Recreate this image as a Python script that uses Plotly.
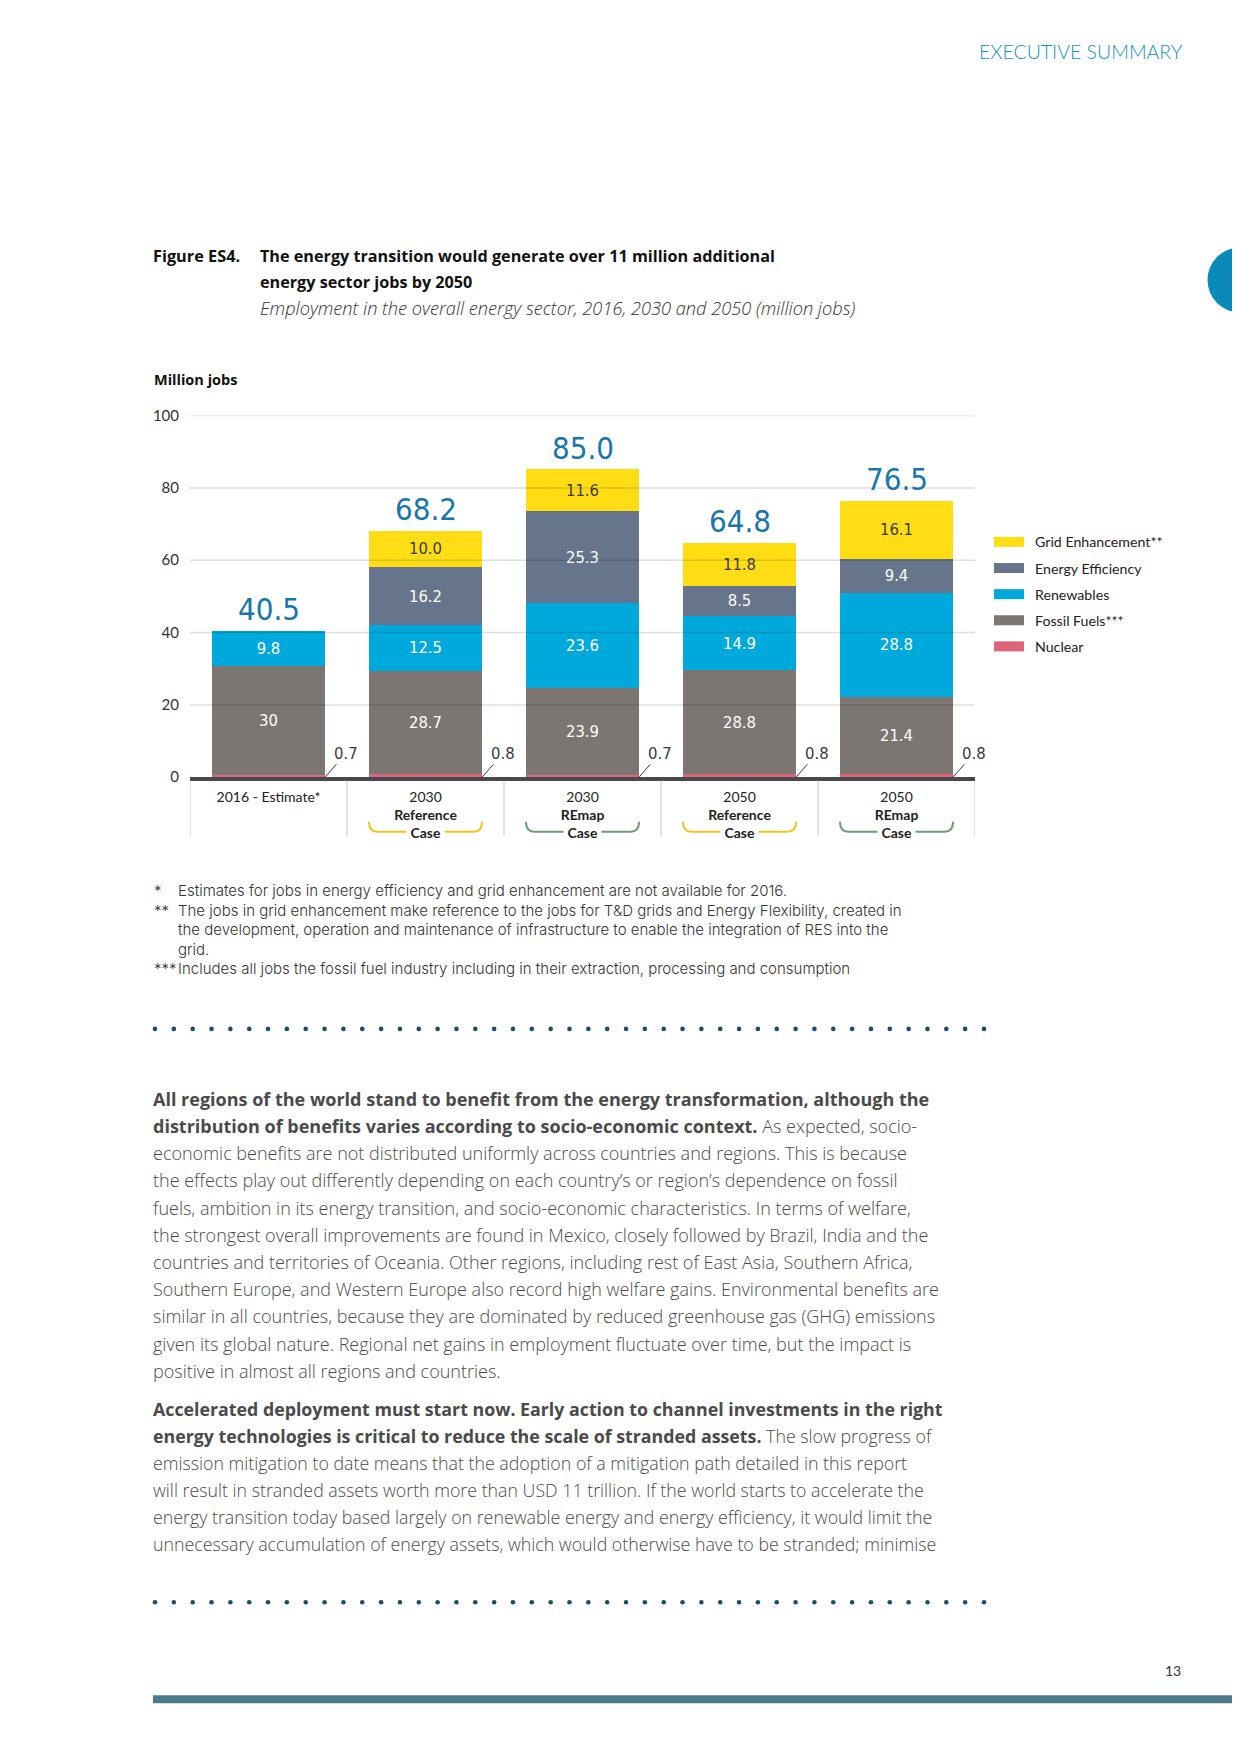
import plotly.graph_objects as go
import numpy as np

# page is 1240x1754; the browser body keeps an 8px margin, so the figure is 1224x1738
PAGE_W, PAGE_H = 1240, 1754
OFF = 8
W, H = PAGE_W - 2 * OFF, PAGE_H - 2 * OFF
YS, YO = 1.011, 18.86   # vertical calibration of page position -> figure pixel

# ---------------- data ----------------
categories = ["2016 - Estimate*", "2030", "2030", "2050", "2050"]
case_names = ["", "Reference", "REmap", "Reference", "REmap"]
nuclear = [0.7, 0.8, 0.7, 0.8, 0.8]
fossil = [30, 28.7, 23.9, 28.8, 21.4]
renewables = [9.8, 12.5, 23.6, 14.9, 28.8]
efficiency = [None, 16.2, 25.3, 8.5, 9.4]
grid = [None, 10.0, 11.6, 11.8, 16.1]
totals = [40.5, 68.2, 85.0, 64.8, 76.5]
y_ticks = [0, 20, 40, 60, 80, 100]

COND = "Liberation Sans Narrow, Noto Sans Condensed, DejaVu Sans Condensed, sans-serif"
SANS = "Lato, Open Sans, sans-serif"
BODY = "Open Sans, Lato, sans-serif"
NOTE = "Inter, Open Sans, sans-serif"

def fx(x):
    return (x - OFF) / W

def fy(y):
    return 1 - (YS * y - YO) / H

series = [
    ("Nuclear", nuclear, "#dd6479", None, "#3a3a3a"),
    ("Fossil Fuels***", fossil, "#7b7672", "g", "white"),
    ("Renewables", renewables, "#00a9db", "g", "white"),
    ("Energy Efficiency", efficiency, "#66758b", "g", "white"),
    ("Grid Enhancement**", grid, "#ffdd15", ".1f", "#3a3a3a"),
]

xs = list(range(len(categories)))
BAR_W = 0.72

fig = go.Figure()
for name, vals, color, fmt, tcol in series:
    if fmt is None:
        txt = None
    else:
        txt = [("" if v is None else format(v, fmt)) for v in vals]
    fig.add_trace(go.Bar(
        x=xs, y=vals, name=name, marker=dict(color=color, line=dict(width=0)),
        width=BAR_W, text=txt, textposition="inside" if txt else "none",
        insidetextanchor="middle", textangle=0,
        textfont=dict(family=COND, size=16.5, color=tcol),
        showlegend=False, hoverinfo="skip",
    ))

shapes = []
annotations = []

# gridlines drawn over the bars (faint)
for v in y_ticks[1:]:
    shapes.append(dict(type="line", xref="paper", yref="y", x0=fx(190), x1=fx(975),
                       y0=v, y1=v, line=dict(color="rgba(0,0,0,0.13)", width=1.5),
                       layer="above"))

# category separators below the axis
for i in range(len(categories) + 1):
    shapes.append(dict(type="line", xref="x", yref="paper", x0=i - 0.5, x1=i - 0.5,
                       y0=fy(781), y1=fy(836), line=dict(color="#d8d8d8", width=1.5)))

# totals
for i, t in enumerate(totals):
    annotations.append(dict(x=i, y=t, xref="x", yref="y", text=f"{t:.1f}",
                            showarrow=False, yanchor="bottom", yshift=2,
                            font=dict(family=COND, size=31, color="#1877a8")))

# nuclear labels with leader lines
for i, v in enumerate(nuclear):
    annotations.append(dict(x=i + BAR_W / 2, y=0, xref="x", yref="y", text=f"{v:g}",
                            showarrow=True, arrowhead=0, arrowwidth=1,
                            arrowcolor="#3a3a3a", ax=21, ay=-24, standoff=0,
                            font=dict(family=COND, size=16.5, color="#3a3a3a")))

# tick labels: year + scenario name
ticktext = []
for cat, c in zip(categories, case_names):
    ticktext.append(f"{cat}<br><b>{c}</b><br><b>Case</b>" if c else cat)

# brackets around "Case"
for i, c in enumerate(case_names):
    if not c:
        continue
    col = "#f6c31c" if c == "Reference" else "#6b9e74"
    x0, x1 = i - BAR_W / 2, i + BAR_W / 2
    dx = 9 / 157
    gap = 19 / 157
    yt, yb = fy(822), fy(832)
    path = (f"M {x0},{yt} Q {x0},{yb} {x0 + dx},{yb} L {i - gap},{yb} "
            f"M {i + gap},{yb} L {x1 - dx},{yb} Q {x1},{yb} {x1},{yt}")
    shapes.append(dict(type="path", xref="x", yref="paper", path=path,
                       line=dict(color=col, width=2)))

# custom legend
legend_items = [series[4], series[3], series[2], series[1], series[0]]
for k, (name, vals, color, fmt, tcol) in enumerate(legend_items):
    yc = 542.3 + k * 26.1
    shapes.append(dict(type="rect", xref="paper", yref="paper", x0=fx(994), x1=fx(1024),
                       y0=fy(yc + 5), y1=fy(yc - 5), fillcolor=color, line=dict(width=0)))
    annotations.append(dict(x=fx(1033), y=fy(yc), xref="paper", yref="paper", text=name,
                            showarrow=False, xanchor="left", yanchor="middle",
                            font=dict(family=SANS, size=14.2, color="#222")))

# ---------------- page furniture ----------------
def ptext(x, y, text, size, color="#222", anchor="left", family=SANS, weight=None, style=None):
    f = dict(family=family, size=size, color=color)
    if weight is not None:
        f["weight"] = weight
    if style is not None:
        f["style"] = style
    annotations.append(dict(x=fx(x), y=fy(y), xref="paper", yref="paper", text=text,
                            showarrow=False, xanchor=anchor, yanchor="middle",
                            align="left", font=f))

ptext(1185, 52.5, "EXECUTIVE SUMMARY", 19.5, color="#1592c4", anchor="right", weight=300)
shapes.append(dict(type="circle", xref="paper", yref="paper", x0=fx(1207.5), x1=fx(1272.5),
                   y0=fy(313), y1=fy(248), fillcolor="#0a8ab8", line=dict(width=0)))

ptext(151, 257, "<b>Figure ES4.</b>", 16.3, color="#111", family=BODY)
ptext(258, 257, "<b>The energy transition would generate over 11 million additional</b>",
      16.2, color="#111", family=BODY)
ptext(258, 282.5, "<b>energy sector jobs by 2050</b>", 16.2, color="#111", family=BODY)
ptext(258, 309, "Employment in the overall energy sector, 2016, 2030 and 2050 (million jobs)",
      18.2, color="#333", weight=300, style="italic", family=BODY)
ptext(152, 380, "<b>Million jobs</b>", 14.5, color="#111", family=BODY)

# footnotes (one block, five lines)
FN = 15
ptext(152, 929.5, "*<br>**<br><br><br>***", FN, color="#333", weight=300, family=NOTE)
ptext(176, 929.5,
      "Estimates for jobs in energy efficiency and grid enhancement are not available for 2016."
      "<br>The jobs in grid enhancement make reference to the jobs for T&amp;D grids and Energy Flexibility, created in"
      "<br>the development, operation and maintenance of infrastructure to enable the integration of RES into the"
      "<br>grid."
      "<br>Includes all jobs the fossil fuel industry including in their extraction, processing and consumption",
      FN, color="#333", weight=300, family=NOTE)

# dotted separators
for yd in (1029, 1602):
    for xd in np.linspace(155, 984, 45):
        shapes.append(dict(type="circle", xref="paper", yref="paper",
                           x0=fx(xd - 2.3), x1=fx(xd + 2.3), y0=fy(yd + 2.3), y1=fy(yd - 2.3),
                           fillcolor="#1b4f64", line=dict(width=0)))

para1 = [
    "<b>All regions of the world stand to benefit from the energy transformation, although the</b>",
    "<b>distribution of benefits varies according to socio-economic context.</b> As expected, socio-",
    "economic benefits are not distributed uniformly across countries and regions. This is because",
    "the effects play out differently depending on each country’s or region’s dependence on fossil",
    "fuels, ambition in its energy transition, and socio-economic characteristics. In terms of welfare,",
    "the strongest overall improvements are found in Mexico, closely followed by Brazil, India and the",
    "countries and territories of Oceania. Other regions, including rest of East Asia, Southern Africa,",
    "Southern Europe, and Western Europe also record high welfare gains. Environmental benefits are",
    "similar in all countries, because they are dominated by reduced greenhouse gas (GHG) emissions",
    "given its global nature. Regional net gains in employment fluctuate over time, but the impact is",
    "positive in almost all regions and countries.",
]
para2 = [
    "<b>Accelerated deployment must start now. Early action to channel investments in the right</b>",
    "<b>energy technologies is critical to reduce the scale of stranded assets.</b> The slow progress of",
    "emission mitigation to date means that the adoption of a mitigation path detailed in this report",
    "will result in stranded assets worth more than USD 11 trillion. If the world starts to accelerate the",
    "energy transition today based largely on renewable energy and energy efficiency, it would limit the",
    "unnecessary accumulation of energy assets, which would otherwise have to be stranded; minimise",
]
for k, line in enumerate(para1):
    ptext(151, 1099 + k * 27.17, line, 18, color="#4a4a4a", weight=300, family=BODY)
for k, line in enumerate(para2):
    ptext(151, 1408.7 + k * 27.07, line, 17.8, color="#4a4a4a", weight=300, family=BODY)

ptext(1173, 1670, "13", 14, color="#333", anchor="center")
shapes.append(dict(type="rect", xref="paper", yref="paper", x0=fx(153), x1=fx(1240),
                   y0=fy(1703), y1=fy(1695), fillcolor="#4e7b8c", line=dict(width=0)))

fig.update_layout(
    width=W, height=H, margin=dict(l=0, r=0, t=0, b=0),
    paper_bgcolor="white", plot_bgcolor="rgba(0,0,0,0)",
    barmode="stack", bargap=0.28,
    shapes=shapes, annotations=annotations,
    xaxis=dict(domain=[fx(190), fx(975)], range=[-0.5, 4.5], tickvals=xs, ticktext=ticktext,
               showgrid=False, zeroline=False, showline=True, linecolor="#48484e",
               linewidth=3.5, ticks="", ticklabelstandoff=4,
               tickfont=dict(family=SANS, size=14, color="#222"), fixedrange=True),
    yaxis=dict(domain=[fy(777.5), fy(416)], range=[0, 100], tickvals=y_ticks,
               showgrid=False, zeroline=False, showline=False, ticks="",
               ticklabelstandoff=10,
               tickfont=dict(family=SANS, size=15, color="#333"), fixedrange=True),
    showlegend=False,
)

fig.write_html("out.html", config={"displayModeBar": False})
